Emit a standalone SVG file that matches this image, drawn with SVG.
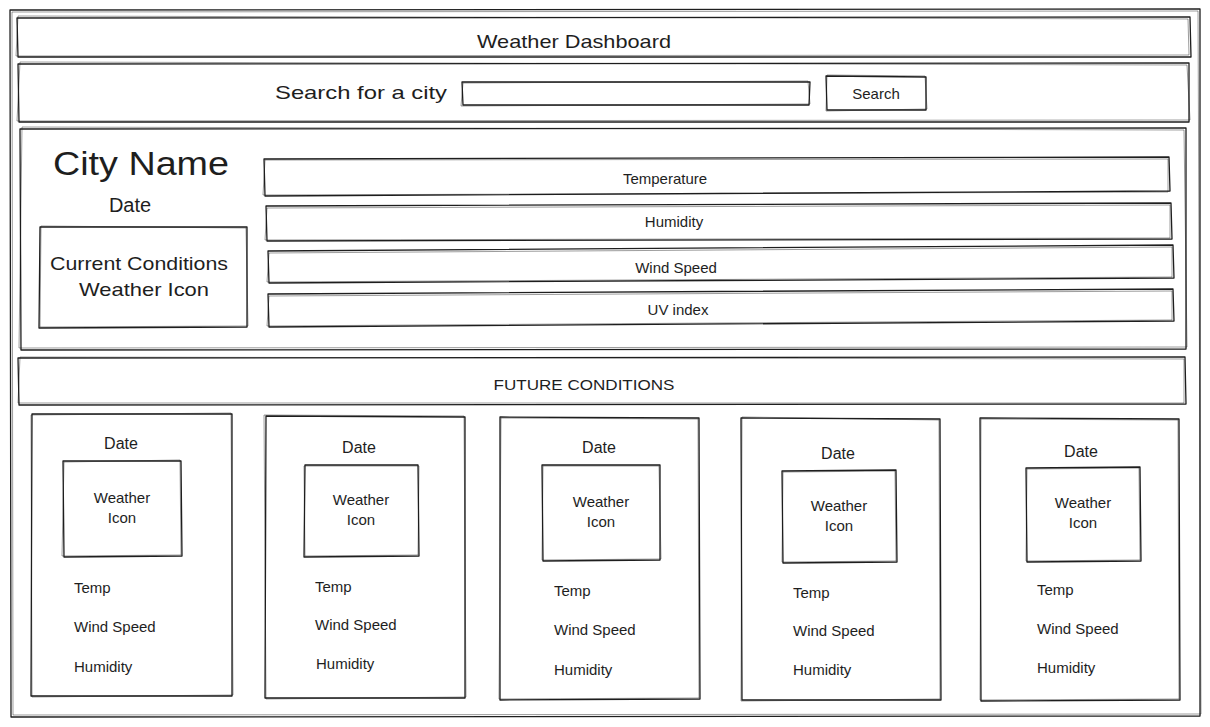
<svg xmlns="http://www.w3.org/2000/svg" width="1210" height="727" viewBox="0 0 1210 727">
<style>
.b{fill:none;stroke:#1e1e1e;stroke-width:1.3;stroke-linejoin:round}
.s{fill:none;stroke:#1e1e1e;stroke-width:0.8;opacity:0.55}
text{font-family:"Liberation Sans","DejaVu Sans",sans-serif;fill:#1e1e1e;text-anchor:middle}
.l{text-anchor:start}
.t16{font-size:16px}
.t15{font-size:15px}
.t19{font-size:19px}
</style>
<rect width="1210" height="727" fill="#ffffff"/>
<g id="frame">
<path class="b" d="M10 10 L1200 9 L1200 716 L11 717 Z"/>
<path class="s" d="M12 12 L1198 11 L1201 714 L13 715 Z"/>
</g>
<g id="title">
<path class="b" d="M17 18 L1190 17 L1191 57 L18 57 Z"/>
<path class="s" d="M18 16 L1188 19 L1189 55 L16 56 Z"/>
<text x="574" y="48" class="t19" textLength="194" lengthAdjust="spacingAndGlyphs">Weather Dashboard</text>
</g>
<g id="search-bar">
<path class="b" d="M18 64 L1189 63 L1189 122 L19 122 Z"/>
<path class="s" d="M20 62 L1187 65 L1190 120 L17 121 Z"/>
<text x="361" y="99" class="t19" textLength="172" lengthAdjust="spacingAndGlyphs">Search for a city</text>
</g>
<g id="search-input">
<path class="b" d="M462 82 L810 82 L809 105 L463 105 Z"/>
<path class="s" d="M463 83 L808 81 L810 104 L461 106 Z"/>
</g>
<g id="search-button">
<path class="b" d="M826 76 L926 77 L926 110 L827 110 Z"/>
<path class="s" d="M827 75 L925 76 L927 109 L826 111 Z"/>
<text x="876" y="99" class="t15">Search</text>
</g>
<g id="current-panel">
<path class="b" d="M20 129 L1186 128 L1186 349 L21 350 Z"/>
<path class="s" d="M22 127 L1184 130 L1187 347 L19 348 Z"/>
<text x="141" y="175" style="font-size:34px" textLength="176" lengthAdjust="spacingAndGlyphs">City Name</text>
<text x="130" y="212" style="font-size:20px">Date</text>
</g>
<g id="current-icon">
<path class="b" d="M40 227 L247 227 L247 327 L39 328 Z"/>
<path class="s" d="M41 226 L246 228 L248 326 L40 327 Z"/>
<text x="139" y="270" class="t19" textLength="178" lengthAdjust="spacingAndGlyphs">Current Conditions</text>
<text x="144" y="296" class="t19" textLength="130" lengthAdjust="spacingAndGlyphs">Weather Icon</text>
</g>
<g id="temperature">
<path class="b" d="M264 159 L1169 157 L1170 191 L265 196 Z"/>
<path class="s" d="M265 160 L1168 159 L1168 192 L263 195 Z"/>
<text x="665" y="184" class="t15">Temperature</text>
</g>
<g id="humidity">
<path class="b" d="M266 206 L1171 203 L1172 239 L267 241 Z"/>
<path class="s" d="M267 208 L1170 205 L1170 238 L265 240 Z"/>
<text x="674" y="227" class="t15">Humidity</text>
</g>
<g id="wind-speed">
<path class="b" d="M268 251 L1173 245 L1174 278 L269 283 Z"/>
<path class="s" d="M269 253 L1172 247 L1172 277 L267 282 Z"/>
<text x="676" y="273" class="t15">Wind Speed</text>
</g>
<g id="uv-index">
<path class="b" d="M268 294 L1173 289 L1174 321 L269 327 Z"/>
<path class="s" d="M269 296 L1172 291 L1172 320 L267 326 Z"/>
<text x="678" y="315" class="t15">UV index</text>
</g>
<g id="future-bar">
<path class="b" d="M18 358 L1185 357 L1186 404 L19 405 Z"/>
<path class="s" d="M20 357 L1184 359 L1184 403 L18 403 Z"/>
<text x="584" y="390" class="t15" textLength="181" lengthAdjust="spacingAndGlyphs">FUTURE CONDITIONS</text>
</g>
<g id="day-1">
<path class="b" d="M32 414 L232 414 L232 696 L31 696 Z"/>
<path class="s" d="M31 415 L231 413 L233 695 L32 697 Z"/>
<text x="121" y="449" class="t16">Date</text>
<path class="b" d="M63 461 L181 461 L182 556 L64 557 Z"/>
<path class="s" d="M64 462 L180 460 L181 555 L62 556 Z"/>
<text x="122" y="503" class="t15">Weather</text>
<text x="122" y="523" class="t15">Icon</text>
<text x="74" y="593" class="t15 l">Temp</text>
<text x="74" y="632" class="t15 l">Wind Speed</text>
<text x="74" y="672" class="t15 l">Humidity</text>
</g>
<g id="day-2">
<path class="b" d="M266 416 L465 417 L465 698 L265 698 Z"/>
<path class="s" d="M264 415 L464 416 L466 697 L266 699 Z"/>
<text x="359" y="453" class="t16">Date</text>
<path class="b" d="M305 465 L418 465 L419 556 L304 557 Z"/>
<path class="s" d="M304 466 L419 466 L418 555 L305 556 Z"/>
<text x="361" y="505" class="t15">Weather</text>
<text x="361" y="525" class="t15">Icon</text>
<text x="315" y="592" class="t15 l">Temp</text>
<text x="315" y="630" class="t15 l">Wind Speed</text>
<text x="316" y="669" class="t15 l">Humidity</text>
</g>
<g id="day-3">
<path class="b" d="M500 417 L699 418 L700 699 L500 700 Z"/>
<path class="s" d="M501 418 L698 419 L699 698 L499 699 Z"/>
<text x="599" y="453" class="t16">Date</text>
<path class="b" d="M542 465 L660 465 L660 560 L543 561 Z"/>
<path class="s" d="M543 466 L659 466 L661 559 L542 560 Z"/>
<text x="601" y="507" class="t15">Weather</text>
<text x="601" y="527" class="t15">Icon</text>
<text x="554" y="596" class="t15 l">Temp</text>
<text x="554" y="635" class="t15 l">Wind Speed</text>
<text x="554" y="675" class="t15 l">Humidity</text>
</g>
<g id="day-4">
<path class="b" d="M741 418 L940 419 L941 700 L742 700 Z"/>
<path class="s" d="M742 417 L939 420 L940 699 L741 701 Z"/>
<text x="838" y="459" class="t16">Date</text>
<path class="b" d="M782 471 L896 470 L897 562 L783 563 Z"/>
<path class="s" d="M783 472 L895 471 L896 561 L782 562 Z"/>
<text x="839" y="511" class="t15">Weather</text>
<text x="839" y="531" class="t15">Icon</text>
<text x="793" y="598" class="t15 l">Temp</text>
<text x="793" y="636" class="t15 l">Wind Speed</text>
<text x="793" y="675" class="t15 l">Humidity</text>
</g>
<g id="day-5">
<path class="b" d="M980 418 L1179 419 L1180 700 L981 701 Z"/>
<path class="s" d="M981 419 L1178 420 L1179 699 L980 700 Z"/>
<text x="1081" y="457" class="t16">Date</text>
<path class="b" d="M1026 468 L1140 467 L1141 561 L1027 562 Z"/>
<path class="s" d="M1027 469 L1139 468 L1140 560 L1026 561 Z"/>
<text x="1083" y="508" class="t15">Weather</text>
<text x="1083" y="528" class="t15">Icon</text>
<text x="1037" y="595" class="t15 l">Temp</text>
<text x="1037" y="634" class="t15 l">Wind Speed</text>
<text x="1037" y="673" class="t15 l">Humidity</text>
</g>
<g id="connectors"></g>
</svg>
